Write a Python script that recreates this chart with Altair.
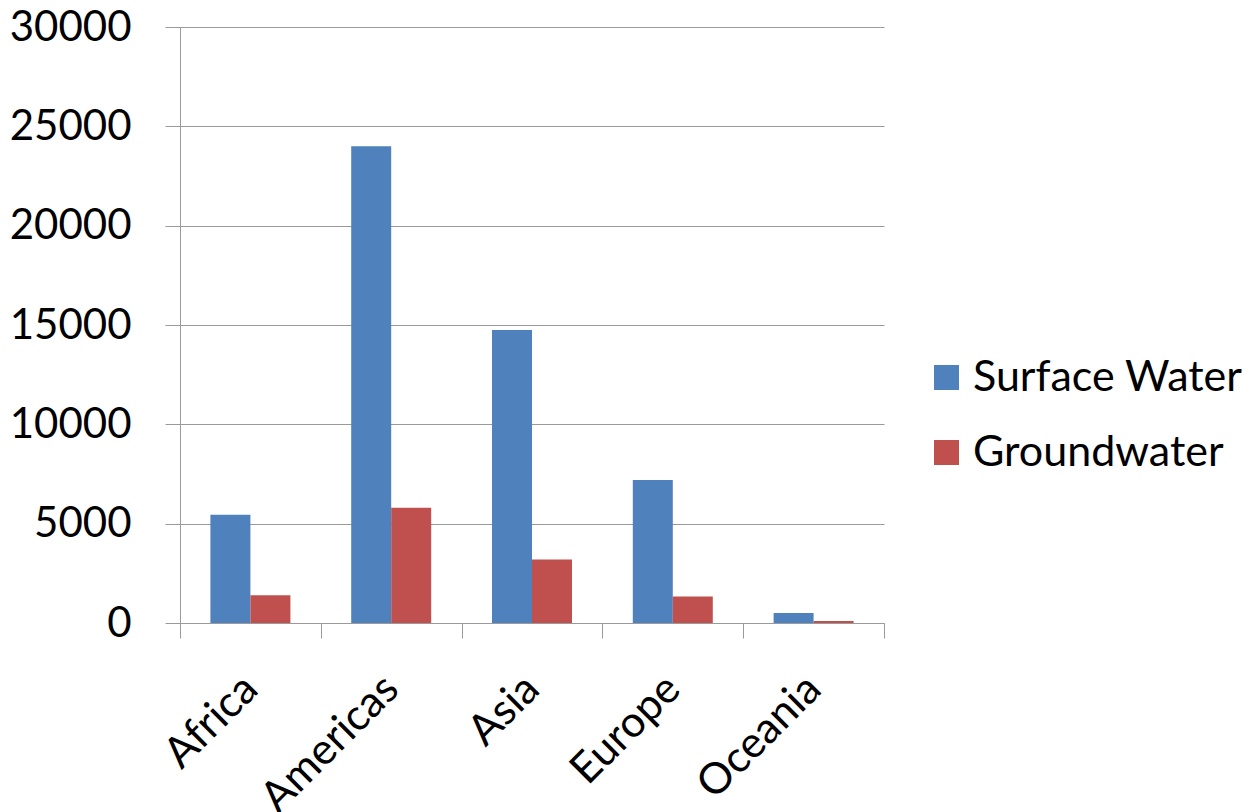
import altair as alt
import pandas as pd

regions = ["Africa", "Americas", "Asia", "Europe", "Oceania"]
surface_water = [5450, 24000, 14750, 7200, 500]
groundwater = [1400, 5800, 3200, 1330, 100]
series = ["Surface Water", "Groundwater"]
colors = ["#4F81BD", "#C0504D"]

rows = []
for r, s, g in zip(regions, surface_water, groundwater):
    rows.append({"region": r, "series": series[0], "value": s})
    rows.append({"region": r, "series": series[1], "value": g})
df = pd.DataFrame(rows)

FONT = "Lato"
GRID = "#9a9a9a"

chart = alt.Chart(df).mark_bar().encode(
    x=alt.X("region:N", sort=regions, title=None,
            scale=alt.Scale(paddingInner=0, paddingOuter=0),
            axis=alt.Axis(labelAngle=-45, labelAlign="right", labelBaseline="middle",
                          labelFontSize=43, labelFont=FONT, labelColor="#000000",
                          tickBand="extent", tickSize=15, tickColor=GRID,
                          domainColor=GRID, labelPadding=44, grid=False,
                          gridColor="blue")),
    xOffset=alt.XOffset("series:N", sort=series,
                        scale=alt.Scale(paddingInner=0, paddingOuter=0.76)),
    y=alt.Y("value:Q", title=None,
            scale=alt.Scale(domain=[0, 30000], nice=False),
            axis=alt.Axis(values=[0, 5000, 10000, 15000, 20000, 25000, 30000],
                          format="d", labelFontSize=42, labelFont=FONT, labelColor="#000000",
                          tickSize=15, tickColor=GRID, domainColor=GRID,
                          gridColor=GRID, labelPadding=34)),
    color=alt.Color("series:N", sort=series,
                    scale=alt.Scale(domain=series, range=colors),
                    legend=alt.Legend(title=None, orient="none", legendX=745, legendY=329,
                                      symbolType="square", symbolSize=625, symbolStrokeWidth=0,
                                      labelFontSize=43, labelFont=FONT, labelColor="#000000",
                                      labelLimit=500, rowPadding=31, labelOffset=5)),
).properties(
    width=704, height=596,
    autosize=alt.AutoSizeParams(type="none"),
    padding={"left": 180, "top": 27, "right": 372, "bottom": 189},
    background="white",
).configure_view(stroke="#ffffff", strokeWidth=0, strokeOpacity=0)

chart.save("out.html", embed_options={"renderer": "svg", "actions": False})
